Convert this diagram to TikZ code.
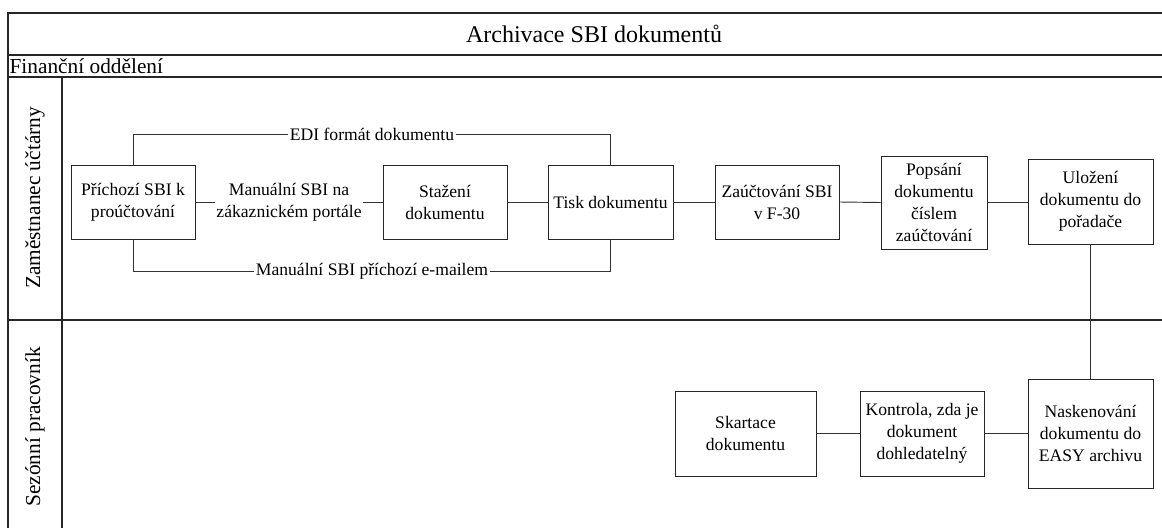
\documentclass[tikz,border=0pt]{standalone}
\usepackage{fontspec}
\setmainfont{Liberation Serif}
\begin{document}
\begin{tikzpicture}[x=0.75pt,y=-0.75pt,
  frame/.style={line width=1.1pt, draw=black!85},
  link/.style={line width=0.7pt, draw=black!80},
  stepbox/.style 2 args={draw=black!85, line width=0.7pt, align=center, inner sep=0pt,
    minimum width=#1*0.75pt, minimum height=#2*0.75pt,
    font=\fontsize{13.2}{16.5}\selectfont},
  linklabel/.style={align=center, inner sep=1pt, font=\fontsize{13.2}{16.5}\selectfont},
  lanelabel/.style={rotate=90, inner sep=0pt, font=\fontsize{16}{19}\selectfont}]
\useasboundingbox (0,0) rectangle (1162,528);

% pool frame and lanes
\draw[frame] (1162,13) -- (8,13) -- (8,528);
\draw[frame] (8,55) -- (1162,55);
\draw[frame] (8,77) -- (1162,77);
\draw[frame] (8,320) -- (1162,320);
\draw[frame] (62,77) -- (62,528);

\node[font=\fontsize{18}{22}\selectfont] (title) at (594,34) {Archivace SBI dokumentů};
\node[anchor=west, inner sep=1pt, font=\fontsize{16}{19}\selectfont] (dept) at (8,66) {Finanční oddělení};
\node[lanelabel] (lane1) at (35,198) {Zaměstnanec účtárny};
\node[lanelabel] (lane2) at (35,427) {Sezónní pracovník};

% first lane
\node[stepbox={124}{74}] (pri) at (133,202) {Příchozí SBI k\\proúčtování};
\node[stepbox={124}{74}] (staz) at (445,202) {Stažení\\dokumentu};
\node[stepbox={125}{74}] (tisk) at (610.5,202) {Tisk dokumentu};
\node[stepbox={124}{74}] (zau) at (777,202) {Zaúčtování SBI\\v F-30};
\node[stepbox={106}{93}] (pops) at (934,202.5) {Popsání\\dokumentu\\číslem\\zaúčtování};
\node[stepbox={125}{85}] (ulo) at (1090.5,201.5) {Uložení\\dokumentu do\\pořadače};

% second lane
\node[stepbox={125}{109}] (nask) at (1090.5,433.5) {Naskenování\\dokumentu do\\EASY archivu};
\node[stepbox={124}{85}] (kon) at (922,433.5) {Kontrola, zda je\\dokument\\dohledatelný};
\node[stepbox={141}{85}] (skar) at (745.5,433.5) {Skartace\\dokumentu};

% connector labels
\node[linklabel] (portal) at (289,202) {Manuální SBI na\\zákaznickém portále};
\node[linklabel] (edi) at (372,134) {EDI formát dokumentu};
\node[linklabel] (mail) at (372,271) {Manuální SBI příchozí e-mailem};

% connectors
\draw[link] (pri.east) -- (portal.west);
\draw[link] (portal.east) -- (staz.west);
\draw[link] (pri.north) |- (edi.west);
\draw[link] (edi.east) -| (tisk.north);
\draw[link] (pri.south) |- (mail.west);
\draw[link] (mail.east) -| (tisk.south);
\draw[link] (staz.east) -- (tisk.west);
\draw[link] (tisk.east) -- (zau.west);
\draw[link] (zau.east) -- (pops.west);
\draw[link] (pops.east) -- (pops.east -| ulo.west);
\draw[link] (ulo.south) -- (nask.north);
\draw[link] (nask.west) -- (kon.east);
\draw[link] (kon.west) -- (skar.east);
\end{tikzpicture}
\end{document}
